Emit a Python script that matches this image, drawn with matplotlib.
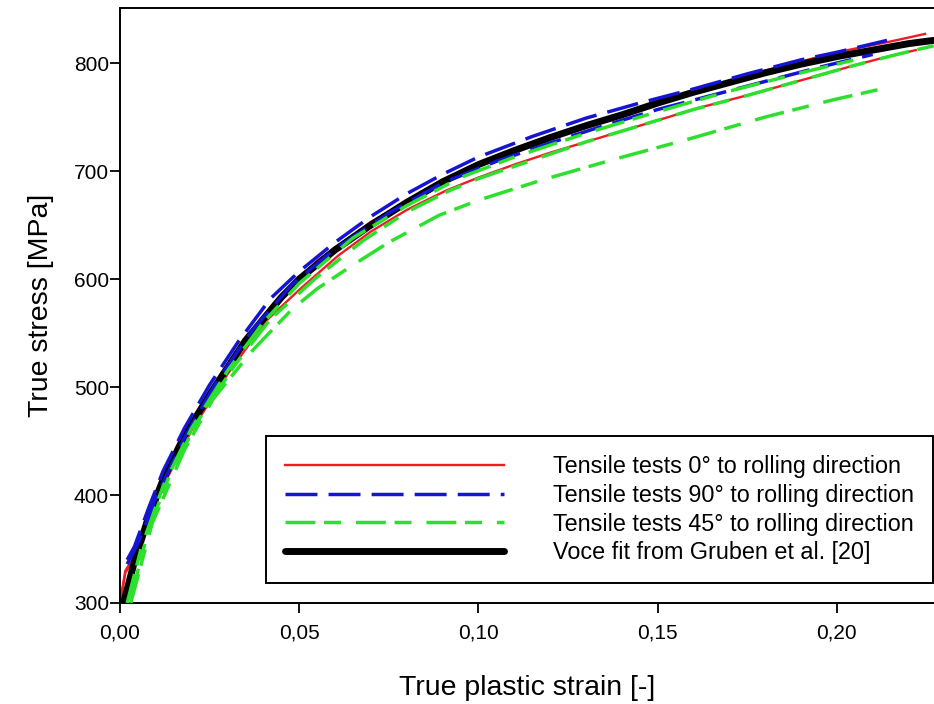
import numpy as np
import matplotlib
matplotlib.use("Agg")
import matplotlib.pyplot as plt
from matplotlib.ticker import FuncFormatter

plt.rcParams['font.family'] = ['Liberation Sans', 'DejaVu Sans']

# Voce fit (black)
eps_voce = [0.001, 0.004, 0.008, 0.012, 0.018, 0.026, 0.035, 0.045, 0.05, 0.06, 0.07, 0.08, 0.09,
            0.10, 0.11, 0.12, 0.13, 0.14, 0.15, 0.16, 0.17, 0.18, 0.19, 0.20, 0.21, 0.22, 0.227]
sig_voce = [300, 338, 380, 414, 455, 498, 543, 583, 600, 627, 650, 671, 690,
            706, 719, 731, 742, 752, 763, 773, 782, 791, 799, 806, 812, 818, 821]

# 0 deg tests (red)
eps_r1 = [0.0, 0.0015, 0.003, 0.006, 0.010, 0.016, 0.024, 0.033, 0.043, 0.055, 0.07, 0.085, 0.10,
          0.12, 0.14, 0.16, 0.18, 0.20, 0.215, 0.2246]
sig_r1 = [300, 330, 338, 362, 398, 442, 490, 536, 578, 617, 653, 682, 707,
          732, 753, 773, 793, 810, 820, 827]
eps_r2 = [0.0, 0.0015, 0.003, 0.006, 0.012, 0.02, 0.03, 0.041, 0.05, 0.061, 0.07, 0.08, 0.091, 0.10,
          0.11, 0.12, 0.134, 0.148, 0.162, 0.176, 0.19, 0.205, 0.213, 0.222]
sig_r2 = [300, 328, 336, 358, 408, 460, 512, 562, 590, 622, 644, 664, 682, 694,
          706, 717, 731, 745, 759, 771, 784, 798, 805, 812]

# 90 deg tests (blue)
eps_b1 = [0.002, 0.004, 0.008, 0.012, 0.018, 0.025, 0.033, 0.042, 0.05, 0.06, 0.07, 0.08, 0.09,
          0.10, 0.115, 0.13, 0.145, 0.16, 0.175, 0.19, 0.2, 0.214]
sig_b1 = [340, 352, 388, 422, 462, 502, 542, 582, 607, 634, 658, 679, 697,
          713, 732, 749, 763, 776, 790, 803, 810, 821]
eps_b2 = [0.002, 0.005, 0.01, 0.018, 0.027, 0.037, 0.048, 0.06, 0.075, 0.09, 0.105, 0.12, 0.135,
          0.15, 0.165, 0.18, 0.195, 0.21]
sig_b2 = [336, 355, 397, 453, 505, 553, 595, 628, 661, 689, 709, 726, 742,
          757, 770, 783, 796, 808]

# 45 deg tests (green)
eps_g1 = [0.002, 0.006, 0.012, 0.02, 0.03, 0.04, 0.05, 0.065, 0.08, 0.095, 0.11, 0.13, 0.15,
          0.17, 0.19, 0.205]
sig_g1 = [300, 352, 408, 462, 515, 560, 596, 638, 668, 694, 713, 735, 755,
          774, 791, 803]
eps_g2 = [0.003, 0.008, 0.014, 0.022, 0.032, 0.042, 0.055, 0.068, 0.08, 0.092, 0.10, 0.115, 0.13,
          0.145, 0.16, 0.175, 0.19, 0.205, 0.218, 0.227]
sig_g2 = [305, 368, 420, 470, 520, 563, 602, 636, 662, 682, 693, 710, 727,
          742, 757, 770, 784, 798, 809, 816]
eps_g3 = [0.003, 0.009, 0.018, 0.026, 0.037, 0.048, 0.055, 0.065, 0.075, 0.089, 0.10, 0.118, 0.138,
          0.158, 0.18, 0.199, 0.215]
sig_g3 = [300, 374, 442, 489, 534, 572, 591, 613, 634, 659, 673, 692, 711,
          729, 750, 766, 778]

labels = ['Tensile tests 0\u00b0 to rolling direction',
          'Tensile tests 90\u00b0 to rolling direction',
          'Tensile tests 45\u00b0 to rolling direction',
          'Voce fit from Gruben et al. [20]']

red = '#ee1c24'
blue = '#1414d2'
green = '#2ee02e'
blue_dash = (9.2, 3.2)
green_dash = (8.6, 2.5, 4.9, 4.3)

fig = plt.figure(figsize=(9.34, 7.04), dpi=100)
ax = fig.add_axes([120 / 934, 1 - 603 / 704, 814 / 934, 595 / 704])

l_r, = ax.plot(eps_r1, sig_r1, color=red, lw=1.7, zorder=2)
ax.plot(eps_r2, sig_r2, color=red, lw=1.7, zorder=2)
l_k, = ax.plot(eps_voce, sig_voce, color='black', lw=5, zorder=3, solid_capstyle='round')
l_b, = ax.plot(eps_b1, sig_b1, color=blue, lw=2.5, dashes=blue_dash, zorder=4)
ax.plot(eps_b2, sig_b2, color=blue, lw=2.5, dashes=blue_dash, zorder=4)
l_g, = ax.plot(eps_g1, sig_g1, color=green, lw=2.5, dashes=green_dash, zorder=5)
ax.plot(eps_g2, sig_g2, color=green, lw=2.5, dashes=green_dash, zorder=5)
ax.plot(eps_g3, sig_g3, color=green, lw=2.5, dashes=green_dash, zorder=5)

ax.set_xlim(0, 0.2271)
ax.set_ylim(300, 851)
ax.set_xticks([0, 0.05, 0.10, 0.15, 0.20])
ax.set_yticks([300, 400, 500, 600, 700, 800])
ax.xaxis.set_major_formatter(FuncFormatter(lambda v, p: f'{v:.2f}'.replace('.', ',')))
ax.tick_params(direction='out', length=7, width=1.3, labelsize=15)
ax.tick_params(axis='x', pad=8)
ax.tick_params(axis='y', pad=1)
ax.tick_params(top=False, right=False)
for s in ['left', 'bottom', 'top']:
    ax.spines[s].set_linewidth(1.4)
ax.spines['right'].set_visible(False)

ax.set_xlabel('True plastic strain [-]', fontsize=20.5, labelpad=23)
ax.set_ylabel('True stress [MPa]', fontsize=20.5, labelpad=14)

leg = ax.legend([l_r, l_b, l_g, l_k], labels, loc='lower right',
                bbox_to_anchor=(0.9988, 0.0336), borderaxespad=0,
                fontsize=16.8, handlelength=9.4, handletextpad=2.1,
                labelspacing=0.25, borderpad=0.8, fancybox=False,
                framealpha=1, edgecolor='black')
leg.get_frame().set_linewidth(1.4)

fig.savefig('out.png', dpi=100)
